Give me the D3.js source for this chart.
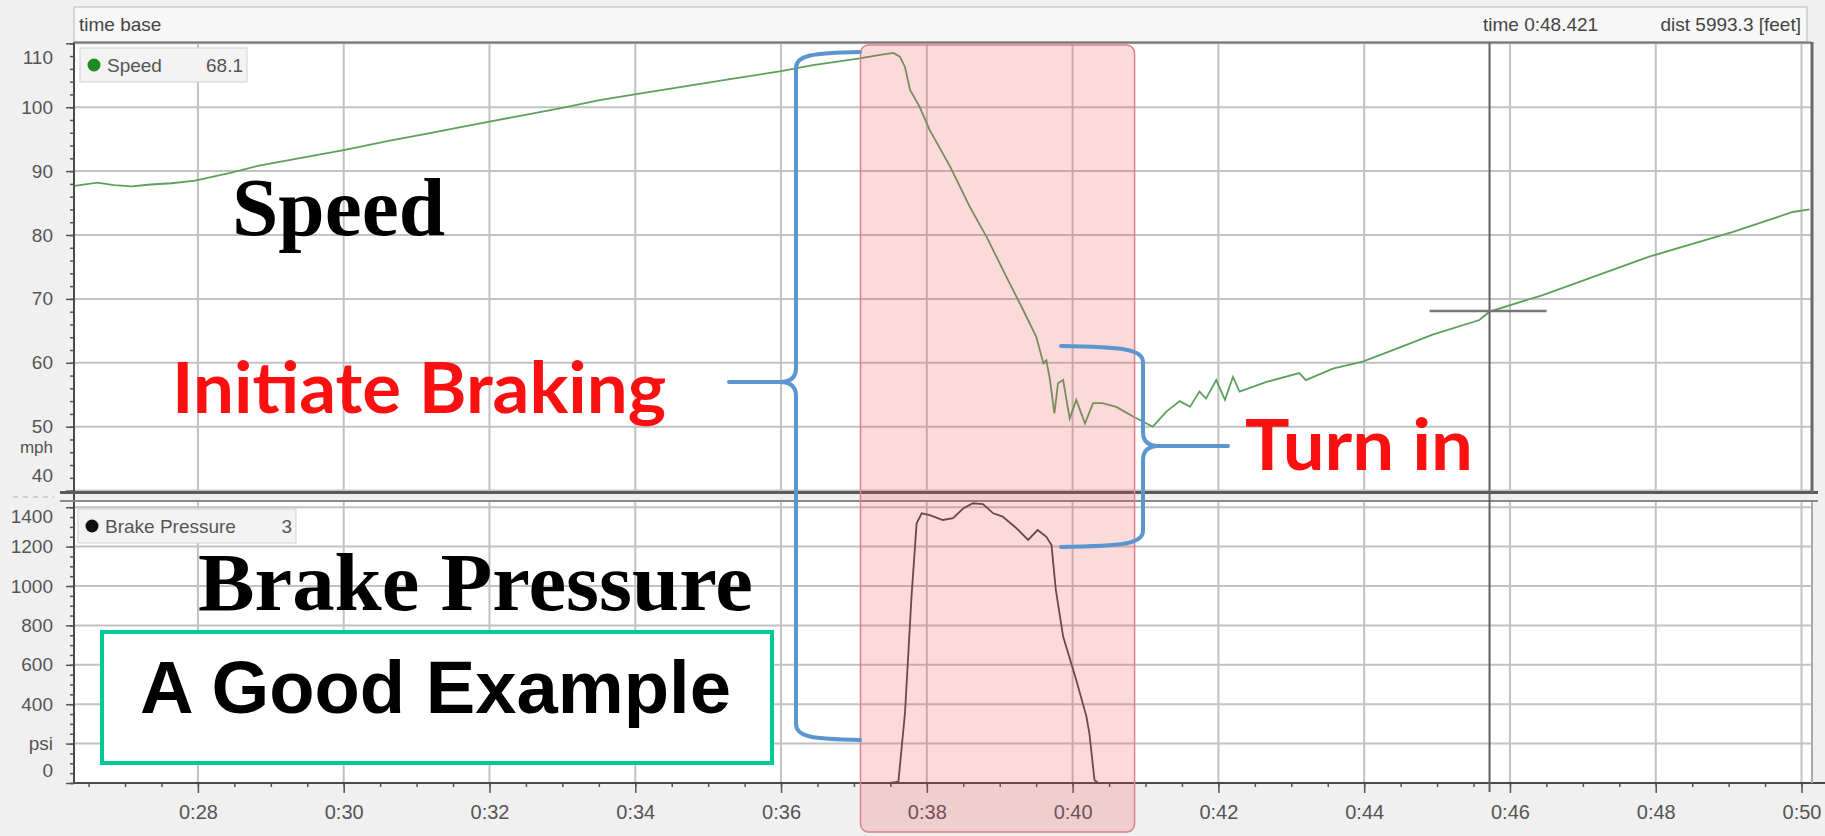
<!DOCTYPE html>
<html>
<head>
<meta charset="utf-8">
<script src="https://cdn.jsdelivr.net/npm/d3@7"></script>
<style>
    body { margin: 0; background: #f0f0f0; }
    svg { display: block; }
</style>
</head>
<body>
<div id="container"></div>
<script>
// speed trace: lap time (s) and mph
var speedTime = [26.31, 26.62, 26.85, 27.09, 27.35, 27.64, 27.96, 28.43, 28.82, 29.38, 30.0, 30.6, 31.2, 31.8, 32.4, 33.0,
    33.51, 34.1, 34.7, 35.3, 35.98, 36.44, 37.08, 37.36, 37.54, 37.63, 37.7, 37.77, 37.9, 38.04, 38.32, 38.59, 38.82,
    39.09, 39.32, 39.5, 39.6, 39.64, 39.69, 39.75, 39.8, 39.87, 39.96, 40.05, 40.17, 40.28, 40.41, 40.6, 40.83, 41.1,
    41.29, 41.47, 41.61, 41.74, 41.83, 41.97, 42.09, 42.2, 42.29, 42.66, 43.11, 43.2, 43.57, 43.98, 44.49, 44.94,
    45.58, 45.72, 46.45, 47.91, 49.06, 49.88, 50.11];
var speedMph = [87.7, 88.2, 87.8, 87.6, 87.9, 88.1, 88.5, 89.7, 90.8, 92.0, 93.3, 94.7, 96.0, 97.3, 98.6, 99.9,
    101.1, 102.2, 103.3, 104.4, 105.6, 106.6, 107.65, 108.2, 108.5, 107.9, 106.3, 102.7, 100.1, 96.4, 90.7, 84.4, 79.7,
    73.5, 68.3, 64.1, 59.9, 60.4, 57.3, 52.1, 56.8, 57.3, 51.3, 54.2, 50.5, 53.7, 53.7, 53.1, 51.6, 50.0,
    52.4, 54.0, 53.1, 55.5, 54.4, 57.3, 54.2, 57.8, 55.5, 57.0, 58.4, 57.3, 59.1, 60.2, 62.4, 64.4,
    66.7, 68.0, 70.6, 76.6, 80.5, 83.6, 84.0];

// brake pressure trace: lap time (s) and psi
var brakeTime = [26.3, 37.49, 37.61, 37.7, 37.79, 37.86, 37.93, 38.04, 38.22, 38.36, 38.5, 38.63, 38.77, 38.91,
    39.04, 39.23, 39.39, 39.52, 39.64, 39.71, 39.77, 39.87, 40.05, 40.19, 40.23, 40.3, 40.35, 50.13];
var brakePsi = [0, 0, 7, 354, 946, 1318, 1369, 1360, 1335, 1344, 1394, 1420, 1416, 1369,
    1352, 1293, 1234, 1284, 1250, 1208, 980, 743, 523, 337, 252, 15, 0, 0];

var timeTicks = [28, 30, 32, 34, 36, 38, 40, 42, 44, 46, 48, 50];
var timeTickLabels = ['0:28', '0:30', '0:32', '0:34', '0:36', '0:38', '0:40', '0:42', '0:44', '0:46', '0:48', '0:50'];
var speedTicks = [40, 50, 60, 70, 80, 90, 100, 110];
var speedTickLabels = ['40', '50', '60', '70', '80', '90', '100', '110'];
var brakeTicks = [0, 200, 400, 600, 800, 1000, 1200, 1400];
var brakeTickLabels = ['0', 'psi', '400', '600', '800', '1000', '1200', '1400'];

// cursor readout
var cursorTime = 45.72;
var cursorSpeed = 68.1;
var cursorBrake = 3;

// braking zone highlight (s)
var zoneStart = 37.09;
var zoneEnd = 40.85;

(function () {
    var width = 1825;
    var height = 836;
    var left = 74, right = 1811;
    var speedTop = 43.3, speedBottom = 490.6;
    var brakeTop = 507.2, brakeBottom = 783;

    var svg = d3.select('#container')
        .append('svg')
        .attr('width', width)
        .attr('height', height)
        .style('font-family', '"Liberation Sans", Arial, sans-serif');

    svg.append('rect').attr('width', width).attr('height', height).attr('fill', '#f0f0f0');

    var x = d3.scaleLinear().domain([26.3, 50.13]).range([left, right]);
    var ySpeed = d3.scaleLinear().domain([40, 110]).range([speedBottom, speedTop]);
    var yBrake = d3.scaleLinear().domain([0, 1400]).range([brakeBottom, brakeTop]);

    // header strip
    svg.append('rect').attr('x', left).attr('y', 7).attr('width', 1733).attr('height', 35)
        .attr('fill', '#f7f7f7').attr('stroke', '#b8b8b8');
    svg.append('text').attr('x', 79).attr('y', 31).text('time base')
        .style('font-size', '19px').attr('fill', '#444');
    svg.append('text').attr('x', 1483).attr('y', 31).text('time 0:48.421')
        .style('font-size', '19px').attr('fill', '#444');
    svg.append('text').attr('x', 1801).attr('y', 31).attr('text-anchor', 'end').text('dist 5993.3 [feet]')
        .style('font-size', '19px').attr('fill', '#444');

    // panel backgrounds
    svg.append('rect').attr('x', left).attr('y', 43).attr('width', right - left).attr('height', 449).attr('fill', '#fff');
    svg.append('rect').attr('x', left).attr('y', 502).attr('width', right - left).attr('height', 281).attr('fill', '#fff');

    svg.append('defs').call(function (defs) {
        defs.append('clipPath').attr('id', 'clipSpeed').append('rect')
            .attr('x', left).attr('y', 43).attr('width', right - left).attr('height', 449);
        defs.append('clipPath').attr('id', 'clipBrake').append('rect')
            .attr('x', left).attr('y', 502).attr('width', right - left).attr('height', 282);
    });

    // gridlines
    var grid = svg.append('g').attr('stroke', '#c2c2c2').attr('stroke-width', 2);
    grid.selectAll('.vs').data(timeTicks).enter().append('line')
        .attr('x1', d => x(d)).attr('x2', d => x(d)).attr('y1', 43).attr('y2', 492);
    grid.selectAll('.vb').data(timeTicks).enter().append('line')
        .attr('x1', d => x(d)).attr('x2', d => x(d)).attr('y1', 502).attr('y2', 783);
    grid.selectAll('.hs').data(speedTicks).enter().append('line')
        .attr('x1', left).attr('x2', right).attr('y1', d => ySpeed(d)).attr('y2', d => ySpeed(d));
    grid.selectAll('.hb').data(brakeTicks.slice(1)).enter().append('line')
        .attr('x1', left).attr('x2', right).attr('y1', d => yBrake(d)).attr('y2', d => yBrake(d));

    // y axes
    function styleAxis(g) {
        g.select('.domain').remove();
        g.selectAll('line').attr('stroke', '#555').attr('stroke-width', 1.5);
        g.selectAll('text').style('font-size', '19px').attr('fill', '#555')
            .style('font-family', '"Liberation Sans", Arial, sans-serif');
    }

    var speedAxis = svg.append('g').attr('transform', 'translate(' + left + ',0)')
        .call(d3.axisLeft(ySpeed).tickValues(speedTicks)
            .tickFormat((d, i) => speedTickLabels[i]).tickSize(8).tickPadding(13).tickSizeOuter(0))
        .call(styleAxis);
    speedAxis.selectAll('.tick text').filter(d => d === 110).attr('dy', '1.05em');
    speedAxis.selectAll('.tick text').filter(d => d === 40).attr('dy', '-0.5em');

    svg.append('g').attr('transform', 'translate(' + left + ',0)')
        .call(d3.axisLeft(ySpeed).tickValues(d3.range(40, 110.1, 2)).tickSize(4).tickFormat(''))
        .call(styleAxis);

    var brakeAxis = svg.append('g').attr('transform', 'translate(' + left + ',0)')
        .call(d3.axisLeft(yBrake).tickValues(brakeTicks)
            .tickFormat((d, i) => brakeTickLabels[i]).tickSize(8).tickPadding(13).tickSizeOuter(0))
        .call(styleAxis);
    brakeAxis.selectAll('.tick text').filter(d => d === 1400).attr('dy', '0.82em');
    brakeAxis.selectAll('.tick text').filter(d => d === 0).attr('dy', '-0.35em');

    svg.append('g').attr('transform', 'translate(' + left + ',0)')
        .call(d3.axisLeft(yBrake).tickValues(d3.range(0, 1401, 50)).tickSize(4).tickFormat(''))
        .call(styleAxis);

    svg.append('text').attr('x', 53).attr('y', 453).attr('text-anchor', 'end').text('mph')
        .style('font-size', '17px').attr('fill', '#555');
    svg.append('line').attr('x1', 13).attr('x2', 54).attr('y1', 497).attr('y2', 497)
        .attr('stroke', '#aaa').attr('stroke-dasharray', '5,5');

    // x axis
    svg.append('g').attr('transform', 'translate(0,' + brakeBottom + ')')
        .call(d3.axisBottom(x).tickValues(timeTicks)
            .tickFormat((d, i) => timeTickLabels[i]).tickSize(10).tickPadding(12).tickSizeOuter(0))
        .call(styleAxis)
        .selectAll('text').style('font-size', '20px');
    svg.append('g').attr('transform', 'translate(0,' + brakeBottom + ')')
        .call(d3.axisBottom(x).tickValues(d3.range(26.5, 50.2, 0.5)).tickSize(4).tickFormat(''))
        .call(styleAxis);

    // frame lines
    svg.append('line').attr('x1', left).attr('x2', left).attr('y1', 42).attr('y2', 784)
        .attr('stroke', '#4a4a4a').attr('stroke-width', 2);
    svg.append('line').attr('x1', left).attr('x2', width).attr('y1', brakeBottom).attr('y2', brakeBottom)
        .attr('stroke', '#4a4a4a').attr('stroke-width', 2);
    svg.append('line').attr('x1', left).attr('x2', right).attr('y1', 42.5).attr('y2', 42.5)
        .attr('stroke', '#777').attr('stroke-width', 2);
    svg.append('line').attr('x1', 60).attr('x2', 1818).attr('y1', 492.5).attr('y2', 492.5)
        .attr('stroke', '#5a5a5a').attr('stroke-width', 3);
    svg.append('line').attr('x1', 60).attr('x2', 1818).attr('y1', 501).attr('y2', 501)
        .attr('stroke', '#8a8a8a').attr('stroke-width', 2);
    svg.append('line').attr('x1', right + 1).attr('x2', right + 1).attr('y1', 42).attr('y2', 493)
        .attr('stroke', '#6a6a6a').attr('stroke-width', 3);
    svg.append('line').attr('x1', right + 1).attr('x2', right + 1).attr('y1', 502).attr('y2', 783)
        .attr('stroke', '#aaa').attr('stroke-width', 2);

    // traces
    var speedData = speedTime.map((t, i) => ({ t: t, v: speedMph[i] }));
    var brakeData = brakeTime.map((t, i) => ({ t: t, v: brakePsi[i] }));

    svg.append('path').datum(speedData)
        .attr('clip-path', 'url(#clipSpeed)')
        .attr('fill', 'none').attr('stroke', '#5d9f5d').attr('stroke-width', 1.8)
        .attr('d', d3.line().x(d => x(d.t)).y(d => ySpeed(d.v)));

    svg.append('path').datum(brakeData)
        .attr('clip-path', 'url(#clipBrake)')
        .attr('fill', 'none').attr('stroke', '#4a4a4a').attr('stroke-width', 1.8)
        .attr('d', d3.line().x(d => x(d.t)).y(d => yBrake(d.v)));

    // cursor
    svg.append('line').attr('x1', x(cursorTime)).attr('x2', x(cursorTime)).attr('y1', 43).attr('y2', 792)
        .attr('stroke', '#606060').attr('stroke-width', 2);
    svg.append('line').attr('x1', x(cursorTime) - 60).attr('x2', x(cursorTime) + 57)
        .attr('y1', ySpeed(cursorSpeed)).attr('y2', ySpeed(cursorSpeed))
        .attr('stroke', '#777').attr('stroke-width', 2.5);

    // legends
    function legend(x0, y0, w, label, value, color) {
        var g = svg.append('g');
        g.append('rect').attr('x', x0).attr('y', y0).attr('width', w).attr('height', 34)
            .attr('fill', '#f3f3f3').attr('stroke', '#cfcfcf');
        g.append('circle').attr('cx', x0 + 14).attr('cy', y0 + 17).attr('r', 6.5).attr('fill', color);
        g.append('text').attr('x', x0 + 27).attr('y', y0 + 24).text(label)
            .style('font-size', '19px').attr('fill', '#555');
        g.append('text').attr('x', x0 + w - 4).attr('y', y0 + 24).attr('text-anchor', 'end').text(value)
            .style('font-size', '19px').attr('fill', '#555');
    }
    legend(80, 48, 167, 'Speed', cursorSpeed, '#1f8a1f');
    legend(78, 509, 218, 'Brake Pressure', cursorBrake, '#111');

    // braking zone overlay
    svg.append('rect')
        .attr('x', x(zoneStart)).attr('y', 45)
        .attr('width', x(zoneEnd) - x(zoneStart)).attr('height', 787)
        .attr('rx', 8)
        .attr('fill', 'rgba(236, 70, 82, 0.2)')
        .attr('stroke', '#e08088').attr('stroke-width', 1.5);

    // annotation text
    svg.append('text').attr('x', 232).attr('y', 235).text('Speed')
        .attr('textLength', 213).attr('lengthAdjust', 'spacingAndGlyphs')
        .style('font-family', '"Liberation Serif", "Times New Roman", serif')
        .style('font-weight', 'bold').style('font-size', '83px').attr('fill', '#000');
    svg.append('text').attr('x', 198).attr('y', 610).text('Brake Pressure')
        .attr('textLength', 555).attr('lengthAdjust', 'spacingAndGlyphs')
        .style('font-family', '"Liberation Serif", "Times New Roman", serif')
        .style('font-weight', 'bold').style('font-size', '83px').attr('fill', '#000');
    svg.append('text').attr('x', 172).attr('y', 413).text('Initiate Braking')
        .attr('textLength', 494).attr('lengthAdjust', 'spacingAndGlyphs')
        .style('font-family', 'Lato, "Open Sans", sans-serif')
        .style('font-weight', 'bold').style('font-size', '70px').attr('fill', '#fa1010');
    svg.append('text').attr('x', 1245).attr('y', 470).text('Turn in')
        .attr('textLength', 228).attr('lengthAdjust', 'spacingAndGlyphs')
        .style('font-family', 'Lato, "Open Sans", sans-serif')
        .style('font-weight', 'bold').style('font-size', '70px').attr('fill', '#fa1010');

    // curly brackets
    function curly(xv, y0, y1, ny, arm, nose, dir) {
        var p = d3.path();
        p.moveTo(xv + dir * arm, y0);
        p.bezierCurveTo(xv + dir * arm * 0.25, y0 + 1, xv, y0 + 3, xv, y0 + 16);
        p.lineTo(xv, ny - 14);
        p.quadraticCurveTo(xv, ny, xv - dir * 16, ny);
        p.lineTo(xv - dir * nose, ny);
        p.moveTo(xv - dir * 16, ny);
        p.quadraticCurveTo(xv, ny, xv, ny + 14);
        p.lineTo(xv, y1 - 16);
        p.bezierCurveTo(xv, y1 - 3, xv + dir * arm * 0.25, y1 - 1, xv + dir * arm, y1);
        svg.append('path').attr('d', p.toString())
            .attr('fill', 'none').attr('stroke', '#5b96d0').attr('stroke-width', 4)
            .attr('stroke-linecap', 'round').attr('stroke-linejoin', 'round');
    }
    curly(796, 52, 740, 382, 64, 67, 1);
    curly(1143, 346, 547, 446, 82, 85, -1);

    // example box
    svg.append('rect').attr('x', 102).attr('y', 632).attr('width', 670).attr('height', 131)
        .attr('fill', '#fff').attr('stroke', '#00c896').attr('stroke-width', 4);
    svg.append('text').attr('x', 140).attr('y', 713).text('A Good Example')
        .attr('textLength', 591).attr('lengthAdjust', 'spacingAndGlyphs')
        .style('font-family', '"Liberation Sans", Arial, sans-serif')
        .style('font-weight', 'bold').style('font-size', '74px').attr('fill', '#000');
})();
</script>
</body>
</html>
